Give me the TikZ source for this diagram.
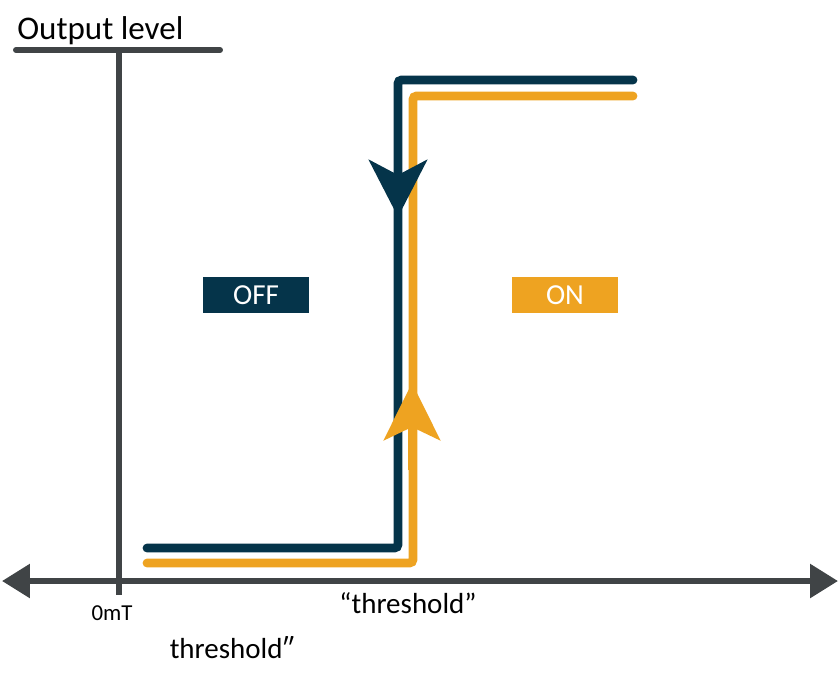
\documentclass[tikz,border=0pt]{standalone}
\usepackage{fontspec}
\setmainfont{Carlito}
\usepackage{tikz}
\usetikzlibrary{arrows.meta}
\definecolor{hydark}{HTML}{05344A}
\definecolor{hyorange}{HTML}{EEA321}
\definecolor{axgray}{HTML}{404446}

\begin{document}
\begin{tikzpicture}[x=0.02cm,y=-0.02cm,
    axis/.style={line width=3.4pt, axgray},
    curve/.style={line width=5pt, line cap=round, rounded corners=2pt},
    statebox/.style={text=white, minimum width=2.12cm, minimum height=0.72cm, inner sep=0pt, font=\fontsize{16.5}{18}\selectfont}]
  \useasboundingbox (0,0) rectangle (840,681);
  % axes
  \draw[axis, line cap=round] (16,50) -- (220,50);
  \draw[axis] (119,50) -- (119,595);
  \draw[axis, {Triangle[length=0.56cm,width=0.66cm]}-{Triangle[length=0.56cm,width=0.66cm]}] (2,581) -- (838,581);
  \node[font=\fontsize{18.8}{21}\selectfont, anchor=base west, inner sep=0pt] (ylab) at (17,39) {Output level};
  % hysteresis loop
  \draw[curve, hydark] (147,548) -- (398,548) -- (398,80) -- (633,80);
  \draw[curve, hyorange] (147,563) -- (413,563) -- (413,96) -- (633,96);
  \draw[hydark, line width=5pt, -{Stealth[length=1.14cm,width=1.16cm,inset=0.3cm]}] (398,140) -- (398,217);
  \draw[hyorange, line width=5pt, -{Stealth[length=1.14cm,width=1.12cm,inset=0.26cm]}] (412,470) -- (412,383);
  % states
  \node[statebox, fill=hydark] (off) at (256,295) {OFF};
  \node[statebox, fill=hyorange] (on) at (565,295) {ON};
  % labels
  \node[font=\fontsize{13}{15}\selectfont] (zero) at (112,613) {0mT};
  \node[font=\fontsize{16.5}{19}\selectfont] (thr) at (408,603) {“threshold”};
  \node[font=\fontsize{16.5}{19}\selectfont] (thrb) at (232,648) {threshold″};
\end{tikzpicture}
\end{document}
